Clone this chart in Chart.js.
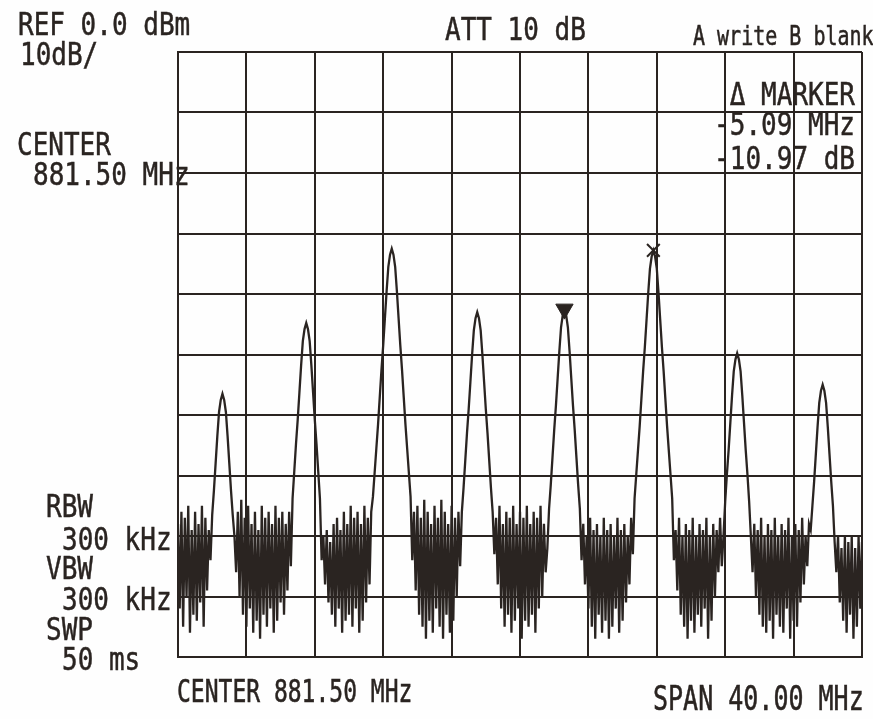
<!DOCTYPE html>
<html>
<head>
<meta charset="utf-8">
<script src="https://cdn.jsdelivr.net/npm/chart.js@4.4.1/dist/chart.umd.min.js"></script>
<style>
  body { margin: 0; background: #fff; }
  #wrap { position: relative; width: 873px; height: 719px; background: #fefefe; }
  #wrap canvas { position: absolute; left: 0; top: 0; }
  .t {
    position: absolute;
    font-family: 'DejaVu Sans Mono', monospace;
    font-size: 26px;
    line-height: 26px;
    color: #2a2421;
    -webkit-text-stroke: 0.4px #2a2421;
    white-space: pre;
    transform: scaleY(1.2);
    transform-origin: left top;
  }
  .r { transform-origin: right top; }
</style>
</head>
<body>
<div id="wrap">
  <canvas id="spec" width="873" height="719"></canvas>
  <div class="t" style="left:18px;top:9px">REF 0.0 dBm</div>
  <div class="t" style="left:20px;top:39px">10dB/</div>
  <div class="t" style="left:445px;top:14px">ATT 10 dB</div>
  <div class="t" style="left:693px;top:22px;font-size:20px;line-height:20px;transform:scaleY(1.37)">A write B blank</div>
  <div class="t r" style="right:18px;top:79px">Δ MARKER</div>
  <div class="t r" style="right:18px;top:109px">-5.09 MHz</div>
  <div class="t r" style="right:18px;top:143px">-10.97 dB</div>
  <div class="t" style="left:17px;top:129px">CENTER</div>
  <div class="t" style="left:33px;top:159px">881.50 MHz</div>
  <div class="t" style="left:46px;top:491px">RBW</div>
  <div class="t" style="left:62px;top:524px">300 kHz</div>
  <div class="t" style="left:46px;top:553px">VBW</div>
  <div class="t" style="left:62px;top:584px">300 kHz</div>
  <div class="t" style="left:46px;top:614px">SWP</div>
  <div class="t" style="left:62px;top:644px">50 ms</div>
  <div class="t" style="left:177px;top:676px;font-size:23px;line-height:23px;transform:scaleY(1.37)">CENTER 881.50 MHz</div>
  <div class="t" style="left:653px;top:681px;font-size:25px;line-height:25px;transform:scaleY(1.37)">SPAN 40.00 MHz</div>
</div>
<script>
// analyzer settings
const centerMHz = 881.5;
const spanMHz = 40;
const stepMHz = 0.1;          // 401 sweep points
const refDbm = 0;
const bottomDbm = -100;

// grid divisions (10 x 10)
const xGridMHz = [861.5, 865.5, 869.5, 873.5, 877.5, 881.5, 885.5, 889.5, 893.5, 897.5, 901.5];
const yGridDbm = [-100, -90, -80, -70, -60, -50, -40, -30, -20, -10, 0];

// trace A (dBm), one value per sweep point
const traceDbm = [
  // noise, left edge
  -78, -92, -76, -95, -77, -90, -75, -96, -79, -93, -76, -94, -78, -91, -75, -95, -77, -89, -79, -84,
  // carrier 1
  -76.5, -72.5, -68, -63.5, -59.5, -57.5, -56.5, -57.5, -59.5, -63.5, -68, -72.5, -76.5,
  // noise
  -80, -86, -76, -90, -74, -93, -77, -95, -75, -92, -78, -96, -76, -94, -79, -97, -75,
  -93, -77, -95, -76, -92, -78, -96, -75, -94, -77, -91, -76, -93, -78, -89, -76, -85,
  // carrier 2
  -73.8, -69.3, -64.8, -60.8, -56.3, -51.8, -47.8, -45.8, -44.8, -45.8, -47.8, -51.8, -56.3,
  -60.8, -64.8, -69.3, -73.8,
  // noise
  -84, -80, -88, -79, -91, -81, -93, -78, -95, -77, -92, -79, -96, -76, -94,
  -78, -93, -75, -95, -77, -92, -76, -96, -78, -94, -75, -91, -77, -88, -76,
  // carrier 3
  -73.5, -69.5, -65.5, -61.5, -57, -52.5, -48.5, -44, -39.5, -35.5, -33.5, -32.5,
  -33.5, -35.5, -39.5, -44, -48.5, -52.5, -57, -61.5, -65.5, -69.5, -73.5,
  // noise
  -84, -76, -89, -75, -93, -77, -95, -74, -97, -76, -94, -78, -96, -75, -92,
  -77, -95, -74, -97, -76, -93, -78, -96, -75, -94, -77, -90, -76, -85,
  // carrier 4
  -76, -72, -67.5, -63, -59, -54.5, -50, -46, -44, -43, -44, -46, -50, -54.5, -59, -63, -67.5, -72, -76,
  // noise
  -83, -77, -88, -75, -92, -78, -95, -76, -93, -77, -96, -75, -94, -78, -92, -76,
  -97, -77, -94, -75, -95, -78, -93, -76, -96, -77, -92, -75, -90, -78, -86, -82,
  // carrier 5
  -75.5, -71.5, -67, -62.5, -58.5, -54, -49.5, -45.5, -43.5, -42.5, -43.5, -45.5, -49.5, -54,
  -58.5, -62.5, -67, -71.5, -75.5,
  // noise
  -84, -78, -88, -80, -92, -77, -95, -79, -97, -78, -93, -80, -96, -77, -94, -79,
  -97, -78, -95, -80, -92, -77, -96, -79, -94, -78, -91, -80, -88, -77, -83,
  // carrier 6
  -73.8, -69.8, -65.8, -61.8, -57.3, -52.8, -48.8, -44.3, -39.8, -35.8, -33.8, -32.8,
  -33.8, -35.8, -39.8, -44.3, -48.8, -52.8, -57.3, -61.8, -65.8, -69.8, -73.8,
  // noise
  -84, -79, -89, -77, -93, -80, -95, -78, -97, -79, -94, -77, -96, -80, -93,
  -78, -95, -79, -92, -77, -97, -80, -94, -78, -90, -79, -86, -77, -85, -80,
  // carrier 7
  -74.3, -69.8, -65.8, -61.3, -56.8, -52.8, -50.8, -49.8, -50.8, -52.8, -56.8, -61.3, -65.8, -69.8, -74.3,
  // noise
  -80, -86, -78, -90, -79, -93, -77, -95, -80, -96, -78, -94, -79, -97, -77, -93, -80, -95,
  -78, -96, -79, -92, -77, -97, -80, -94, -78, -95, -79, -91, -77, -88, -80, -85, -78, -79,
  // carrier 8
  -75, -71, -66.5, -62, -58, -56, -55, -56, -58, -62, -66.5, -71, -75,
  // noise, right edge
  -81, -86, -80, -91, -82, -94, -80, -96, -81, -93, -80, -97, -82, -95, -80, -92, -81
];

// markers
const markerMHz = [884.1];
const markerDbm = [-42.5];
const refMarkerMHz = [889.3];
const refMarkerDbm = [-32.8];

const startMHz = centerMHz - spanMHz / 2;
const ink = '#2a2421';

const tracePts = traceDbm.map((v, i) => ({ x: startMHz + i * stepMHz, y: v }));

new Chart(document.getElementById('spec'), {
  type: 'line',
  data: {
    datasets: [
      {
        label: 'A',
        data: tracePts,
        borderColor: ink,
        borderWidth: 2.3,
        pointRadius: 0,
        tension: 0
      },
      {
        label: 'marker',
        type: 'scatter',
        data: markerMHz.map((f, i) => ({ x: f, y: markerDbm[i] })),
        pointStyle: 'triangle',
        rotation: 180,
        pointRadius: 10,
        backgroundColor: ink,
        borderColor: ink
      },
      {
        label: 'ref marker',
        type: 'scatter',
        data: refMarkerMHz.map((f, i) => ({ x: f, y: refMarkerDbm[i] })),
        pointStyle: 'crossRot',
        pointRadius: 9,
        borderWidth: 2,
        borderColor: ink
      }
    ]
  },
  options: {
    responsive: false,
    animation: false,
    layout: { padding: { left: 178, top: 52, right: 5, bottom: 62 } },
    plugins: { legend: { display: false }, tooltip: { enabled: false } },
    scales: {
      x: {
        type: 'linear',
        min: startMHz,
        max: startMHz + spanMHz,
        afterBuildTicks: s => { s.ticks = xGridMHz.map(v => ({ value: v })); },
        ticks: { display: false },
        grid: { color: ink, lineWidth: 2, drawTicks: false },
        border: { color: ink, width: 2 }
      },
      y: {
        min: bottomDbm,
        max: refDbm,
        afterBuildTicks: s => { s.ticks = yGridDbm.map(v => ({ value: v })); },
        ticks: { display: false },
        grid: { color: ink, lineWidth: 2, drawTicks: false },
        border: { color: ink, width: 2 }
      }
    }
  }
});
</script>
</body>
</html>
